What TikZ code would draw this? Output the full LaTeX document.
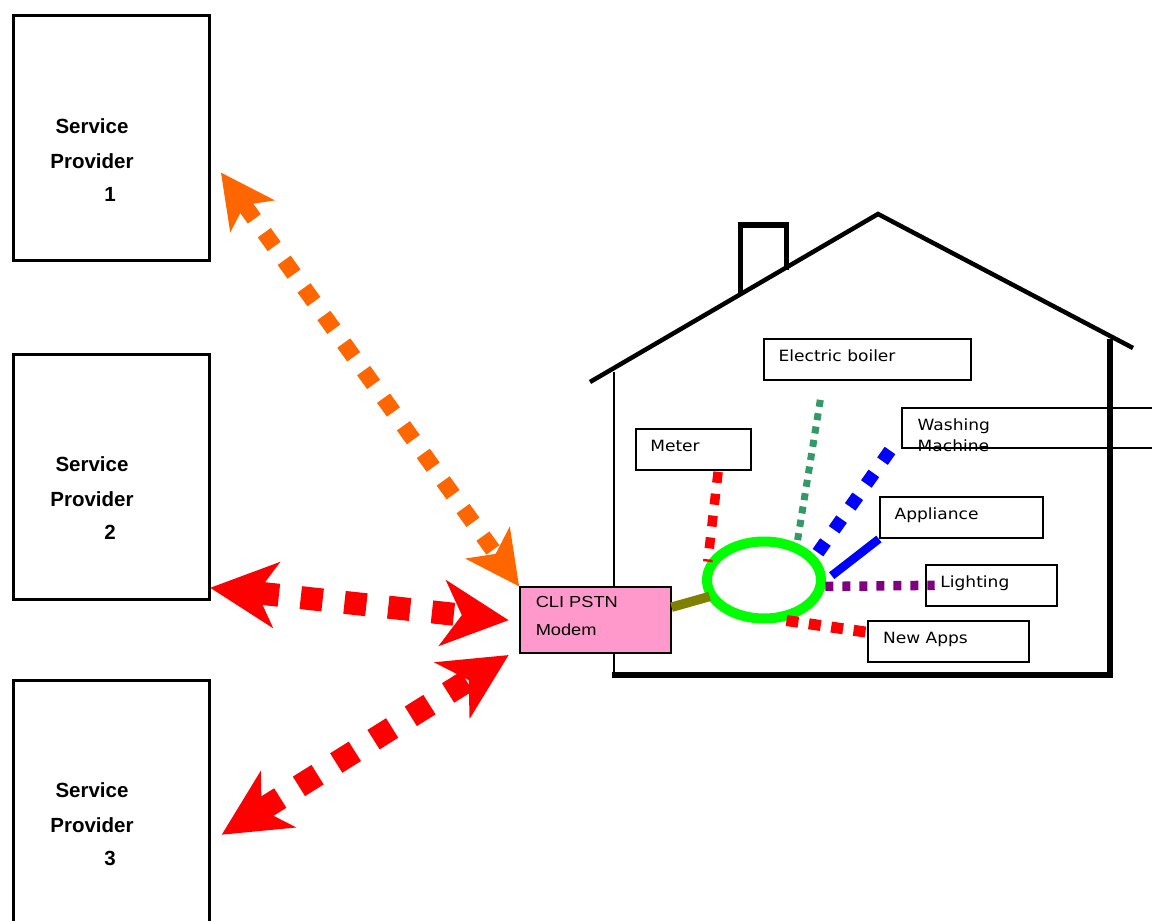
\documentclass[tikz,border=0pt]{standalone}
\usepackage{fontspec}
\setmainfont{Liberation Sans}
\newfontfamily\devfont[FakeStretch=1.1]{DejaVu Sans}
\newfontfamily\modemfont[FakeStretch=1.14]{Liberation Sans}
\usepackage{tikz}
\usetikzlibrary{calc}
\usetikzlibrary{arrows.meta}
\usetikzlibrary{shapes.geometric}
\usetikzlibrary{positioning}
\definecolor{spOrange}{HTML}{FF6600}
\definecolor{spRed}{HTML}{FF0000}
\definecolor{modemPink}{HTML}{FF99CC}
\definecolor{busGreen}{HTML}{00FF00}
\definecolor{boilerGreen}{HTML}{339966}
\definecolor{wireBlue}{HTML}{0000FF}
\definecolor{wirePurple}{HTML}{800080}
\definecolor{wireOlive}{HTML}{808000}
\tikzset{devbox/.style={rectangle,draw=black,line width=2pt,minimum height=41pt,inner sep=0pt}}

\begin{document}
\begin{tikzpicture}[x=1pt,y=-1pt]
  \useasboundingbox (0,0) rectangle (1152,921);
  % some styles
  \tikzset{
    spbox/.style={
      rectangle,
      anchor=north west,
      minimum width=196pt,
      minimum height=245pt,
      inner sep=0pt,
      line width=3.3pt,
      black,
      draw
    }
  }
  \tikzset{sptext/.style={anchor=base,inner sep=0pt,font=\fontsize{20.5}{24}\selectfont\bfseries}}
  \tikzset{devtext/.style={anchor=base west,inner sep=0pt,font=\devfont\fontsize{15.5}{18}\selectfont}}
  \tikzset{modemtext/.style={anchor=base west,inner sep=0pt,font=\modemfont\fontsize{16}{19}\selectfont}}
  \tikzset{modembox/.style={rectangle,draw=black,fill=modemPink,line width=1.8pt,minimum width=150.7pt,minimum height=66pt,inner sep=0pt}}
  \tikzset{bus/.style={ellipse,draw=busGreen,line width=10pt,minimum width=114pt,minimum height=77pt,inner sep=0pt}}
  \tikzset{orangelink/.style={draw=spOrange,line width=16pt,dash pattern=on 17pt off 17pt,
      arrows={Stealth[length=54pt,width=55pt,inset=14pt,line width=0pt]-Stealth[length=54pt,width=55pt,inset=14pt,line width=0pt]}}}
  \tikzset{redlink/.style={draw=spRed,line width=23pt,dash pattern=on 22pt off 22pt,
      arrows={Stealth[length=67pt,width=67pt,inset=20pt,line width=0pt]-Stealth[length=67pt,width=67pt,inset=20pt,line width=0pt]}}}
  \tikzset{meterwire/.style={draw=spRed,line width=9.5pt,dash pattern=on 11pt off 11pt}}
  \tikzset{boilerwire/.style={draw=boilerGreen,line width=7pt,dash pattern=on 7pt off 6.5pt}}
  \tikzset{washwire/.style={draw=wireBlue,line width=13pt,dash pattern=on 13pt off 15pt}}
  \tikzset{applwire/.style={draw=wireBlue,line width=8.5pt}}
  \tikzset{lightwire/.style={draw=wirePurple,line width=9.5pt,dash pattern=on 8pt off 9pt}}
  \tikzset{appswire/.style={draw=spRed,line width=11pt,dash pattern=on 12pt off 10.6pt}}
  \tikzset{modemwire/.style={draw=wireOlive,line width=9.5pt}}

  % providers
  \foreach \n/\ytop in {1/14,2/352.5,3/678.5} {
    \node[spbox] (sp\n) at (12,\ytop) {};
    \node[sptext] (svc\n) at (92,\ytop+119) {Service};
    \node[sptext] (prov\n) at (92,\ytop+154) {Provider};
    \node[sptext] (num\n) at (110,\ytop+187) {\n};
  }

  % house
  \draw[line width=2pt] (613.5,372) -- (613.5,675);
  \draw[line width=6pt] (1110,339) -- (1110,675);
  \draw[line width=6.5pt] (612,675) -- (1113,675);
  \draw[line width=4.5pt] (590,382) -- (878,214) -- (1133,348);
  \draw[line width=5.5pt] (740.5,293) -- (740.5,225) -- (786.5,225) -- (786.5,270);

  % devices
  \foreach \nm/\cx/\cy/\w/\txt in {boiler/867.3/359.4/206.7/Electric boiler,
      meter/693.1/449.4/115/Meter, appl/961.5/517.5/163.2/Appliance,
      lights/991.4/585.3/131.4/Lighting, newapps/948.7/641.3/160.7/New Apps} {
    \node[devbox, minimum width=\w pt] (\nm) at (\cx,\cy) {};
    \node[devtext] (\nm-t) at ([xshift=15.5pt,yshift=-2pt]\nm.west) {\txt};
  }
  \node[devbox, minimum width=267pt, minimum height=40pt] (wash) at (1035.5,427.5) {};
  \node[devtext] (wash-t) at ([xshift=16.5pt,yshift=-2.5pt]wash.west) {Washing};
  \node[devtext] (wash-u) at ([xshift=16.5pt,yshift=-23.5pt]wash.west) {Machine};

  % modem and home bus
  \node[modembox] (modem) at (595.3,620.2) {};
  \node[modemtext] (cli) at ([xshift=16.5pt,yshift=12.9pt]modem.west) {CLI PSTN};
  \node[modemtext] (mdm) at ([xshift=16.5pt,yshift=-14.8pt]modem.west) {Modem};
  \node[bus] (bus) at (764,580) {};
  \draw[modemwire] ([yshift=13pt]modem.east) -- ([xshift=3pt]bus.196);

  \draw[meterwire] ([xshift=25pt,yshift=-1pt]meter.south) -- (bus.162);
  \draw[boilerwire] ([xshift=-47pt,yshift=-19pt]boiler.south) -- (bus.48);
  \draw[washwire] ([xshift=-11pt,yshift=-2pt]wash.south west) -- (bus.25);
  \draw[applwire] (appl.south west) -- ([xshift=6pt]bus.4);
  \draw[lightwire] (bus.-6) -- ([xshift=10pt]lights.west);
  \draw[appswire] (bus.-61) -- ([yshift=9pt]newapps.west);

  % links to the providers
  \coordinate (sp1end) at ([xshift=9.7pt,yshift=-34.5pt]sp1.east);
  \coordinate (sp2end) at ([xshift=-1pt,yshift=13pt]sp2.south east);
  \coordinate (sp3end) at ([xshift=10.5pt,yshift=-32pt]sp3.east);
  \coordinate (mdmleft) at ([xshift=-10.5pt]modem.west);
  \coordinate (mdmlow) at ([xshift=-10.5pt,yshift=-1pt]modem.south west);
  \draw[orangelink] (sp1end) -- (modem.north west);
  \draw[redlink] (sp2end) -- (mdmleft);
  \draw[redlink] (sp3end) -- (mdmlow);
\end{tikzpicture}
\end{document}
